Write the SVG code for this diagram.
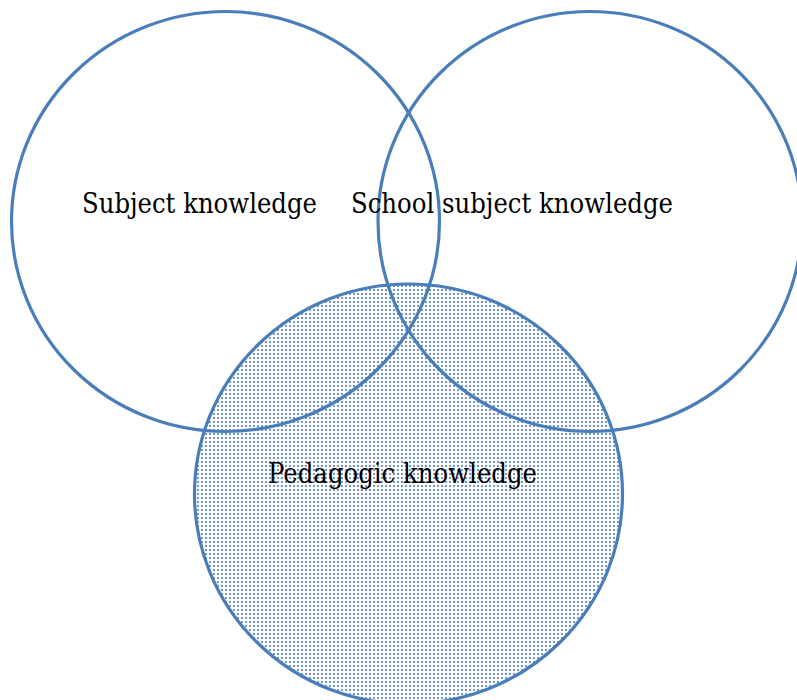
<svg xmlns="http://www.w3.org/2000/svg" width="797" height="700" viewBox="0 0 797 700">
  <defs>
    <pattern id="dots" x="0" y="0" width="4" height="4" patternUnits="userSpaceOnUse">
      <rect x="1" y="1" width="2" height="2" fill="#7199d0"/>
    </pattern>
    <style>
      .ring { fill: none; stroke: #4a7ebb; stroke-width: 3.2; }
      .label { font-family: "DejaVu Serif", "Liberation Serif", serif; font-size: 27px; fill: #000; }
    </style>
  </defs>
  <rect width="797" height="700" fill="#ffffff"/>

  <g id="pedagogic-fill">
    <ellipse cx="408.5" cy="494" rx="214" ry="210" fill="url(#dots)"/>
  </g>

  <g id="subject">
    <ellipse class="ring" cx="225.5" cy="221.5" rx="214" ry="210"/>
    <text class="label" x="82" y="213" textLength="235" lengthAdjust="spacingAndGlyphs">Subject knowledge</text>
  </g>

  <g id="school-subject">
    <ellipse class="ring" cx="590" cy="221.5" rx="212" ry="210"/>
    <text class="label" x="351" y="213" textLength="322" lengthAdjust="spacingAndGlyphs">School subject knowledge</text>
  </g>

  <g id="pedagogic">
    <ellipse class="ring" cx="408.5" cy="494" rx="214" ry="210"/>
    <text class="label" x="268" y="483" textLength="269" lengthAdjust="spacingAndGlyphs">Pedagogic knowledge</text>
  </g>
</svg>
